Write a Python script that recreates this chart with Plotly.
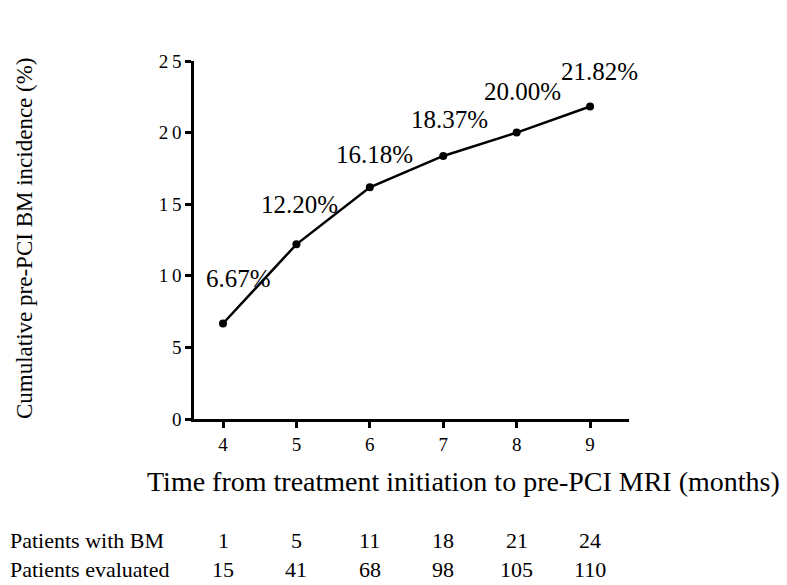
import plotly.graph_objects as go

months = [4, 5, 6, 7, 8, 9]
incidence = [6.67, 12.20, 16.18, 18.37, 20.00, 21.82]
incidence_labels = ["6.67%", "12.20%", "16.18%", "18.37%", "20.00%", "21.82%"]
patients_with_bm = [1, 5, 11, 18, 21, 24]
patients_evaluated = [15, 41, 68, 98, 105, 110]
y_tick_vals = [0, 5, 10, 15, 20, 25]
y_tick_text = ["0", "5", "1\u20090", "1\u20095", "2\u20090", "2\u20095"]

FONT = "Liberation Serif"
label_lift = [45, 40, 33, 36, 41, 35]
label_nudge = [15, 3, 5, 6, 6, 9]

L, R, T, B = 186, 621, 53, 411
W, H = 787, 585
PW, PH = R - L, B - T

fig = go.Figure()
fig.add_trace(go.Scatter(
    x=months, y=incidence, mode="lines+markers",
    line=dict(color="black", width=2.5),
    marker=dict(color="black", size=8),
    showlegend=False, hoverinfo="skip",
))

annotations = []
for xv, yv, txt, lift, nudge in zip(months, incidence, incidence_labels, label_lift, label_nudge):
    annotations.append(dict(
        x=xv, y=yv, xref="x", yref="y", text=txt, showarrow=False,
        yshift=lift, xshift=nudge, font=dict(family=FONT, size=25, color="black"),
        xanchor="center", yanchor="middle",
    ))

# axis titles
annotations.append(dict(
    x=(455 - L) / PW, y=(B - 473) / PH, xref="paper", yref="paper",
    text="Time from treatment initiation to pre-PCI MRI (months)",
    showarrow=False, xanchor="center", yanchor="middle",
    font=dict(family=FONT, size=28, color="black"),
))
annotations.append(dict(
    x=(17 - L) / PW, y=(B - 230) / PH, xref="paper", yref="paper",
    text="Cumulative pre-PCI BM incidence (%)", textangle=-90,
    showarrow=False, xanchor="center", yanchor="middle",
    font=dict(family=FONT, size=23, color="black"),
))

# table rows
row_defs = [("Patients with BM", patients_with_bm, 532),
            ("Patients evaluated", patients_evaluated, 561)]
for name, vals, ypix in row_defs:
    ypos = (B - ypix) / PH
    annotations.append(dict(
        x=-L / PW, y=ypos, xref="paper", yref="paper", text=name,
        showarrow=False, xanchor="left", yanchor="middle",
        font=dict(family=FONT, size=22, color="black"),
    ))
    for xv, v in zip(months, vals):
        annotations.append(dict(
            x=xv, y=ypos, xref="x", yref="paper", text=str(v),
            showarrow=False, xanchor="center", yanchor="middle",
            font=dict(family=FONT, size=22, color="black"),
        ))

fig.update_layout(
    width=W, height=H,
    margin=dict(l=L, r=W - R, t=T, b=H - B),
    paper_bgcolor="white", plot_bgcolor="white",
    annotations=annotations,
    font=dict(family=FONT, color="black"),
)
fig.update_xaxes(
    range=[3.605, 9.53], tickvals=months,
    showline=True, linecolor="black", linewidth=2.5,
    ticks="outside", ticklen=6, tickwidth=2.5, tickcolor="black",
    showgrid=False, zeroline=False,
    tickfont=dict(family=FONT, size=19, color="black"),
)
fig.update_yaxes(
    range=[0, 25], tickvals=y_tick_vals, ticktext=y_tick_text,
    showline=True, linecolor="black", linewidth=2.5,
    ticks="outside", ticklen=6, tickwidth=2.5, tickcolor="black",
    showgrid=False, zeroline=False,
    tickfont=dict(family=FONT, size=19, color="black"),
)

fig.write_html("out.html")
